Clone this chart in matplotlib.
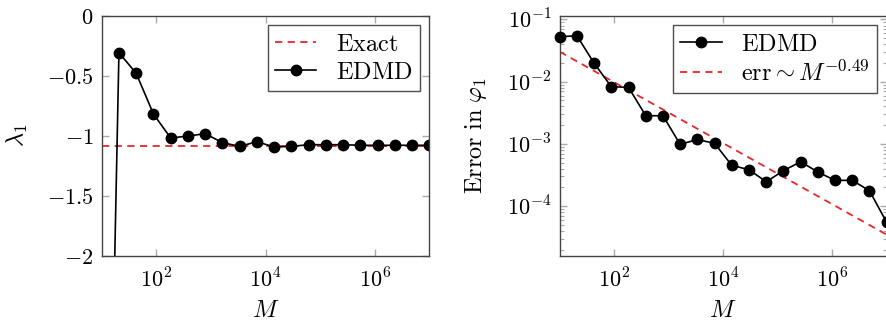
import numpy as np
import matplotlib
matplotlib.use("Agg")
import matplotlib.pyplot as plt
from matplotlib.ticker import LogLocator, NullLocator, FixedLocator, NullFormatter

plt.rcParams['mathtext.fontset'] = 'cm'
plt.rcParams['font.family'] = 'DejaVu Serif'

# data
M = 10.0 ** np.linspace(1, 7, 20)
lam_edmd = [-7.3, -0.308, -0.48, -0.819, -1.019, -1.003, -0.983, -1.058, -1.089, -1.05,
            -1.094, -1.089, -1.075, -1.075, -1.075, -1.08, -1.08, -1.08, -1.08, -1.08]
lam_exact = -1.083
err_edmd = [0.0528, 0.0548, 0.0198, 0.00832, 0.00811, 0.00284, 0.00284, 0.000984, 0.00118, 0.00102,
            0.000453, 0.000385, 0.000247, 0.000371, 0.000518, 0.000353, 0.00026, 0.00026, 0.000177, 5.48e-5]
fit_C = 0.0937
fit_p = -0.49

W, H = 886, 322
fig = plt.figure(figsize=(W / 100, H / 100), dpi=100)
ax1 = fig.add_axes([101.7 / W, 1 - 255.7 / H, 327.6 / W, 240 / H])
ax2 = fig.add_axes([559.7 / W, 1 - 255.7 / H, 327.0 / W, 240 / H])

FS = 16
LFS = 17.5
red = '#e8262a'
mk = dict(color='black', marker='o', markersize=7.5, linewidth=1.2, markerfacecolor='black')

def style(ax):
    for s in ax.spines.values():
        s.set_color('#444444')
        s.set_linewidth(1.0)
    ax.tick_params(which='both', direction='in', top=True, right=True, color='#aaaaaa',
                   labelsize=FS)
    ax.tick_params(axis='x', which='both', pad=9)
    ax.tick_params(axis='y', which='both', pad=6)
    ax.tick_params(which='major', length=5, width=1)
    ax.tick_params(which='minor', length=3, width=0.8)

legkw = dict(loc='upper right', fontsize=LFS, frameon=True, fancybox=False,
             edgecolor='#222222', borderaxespad=0.4, handlelength=1.7,
             borderpad=0.3, labelspacing=0.2, handletextpad=0.8)

# left
ax1.set_xscale('log')
ax1.plot([10, 1e7], [lam_exact, lam_exact], color=red, linestyle=(0, (4, 3)), linewidth=1.3,
         label=r'$\mathrm{Exact}$')
ax1.plot(M, lam_edmd, label=r'$\mathrm{EDMD}$', **mk, clip_on=True)
ax1.set_xlim(10, 1e7)
ax1.set_ylim(-2, 0)
ax1.set_yticks([-2, -1.5, -1, -0.5, 0])
ax1.set_yticklabels([r'$-2$', r'$-1.5$', r'$-1$', r'$-0.5$', r'$0$'])
ax1.xaxis.set_major_locator(FixedLocator([1e2, 1e4, 1e6]))
ax1.set_xticklabels([r'$10^{2}$', r'$10^{4}$', r'$10^{6}$'])
ax1.xaxis.set_minor_locator(NullLocator())
style(ax1)
ax1.set_xlabel(r'$M$', fontsize=LFS, labelpad=5)
ax1.set_ylabel(r'$\lambda_1$', fontsize=LFS, labelpad=12)
leg1 = ax1.legend(**legkw)
leg1.get_frame().set_linewidth(1.0)

# right
ax2.set_xscale('log')
ax2.set_yscale('log')
ax2.plot(M, err_edmd, label=r'$\mathrm{EDMD}$', **mk, clip_on=False, zorder=3)
ax2.plot(M, fit_C * M ** fit_p, color=red, linestyle=(0, (4, 3)), linewidth=1.3,
         label=r'$\mathrm{err} \sim M^{-0.49}$')
ax2.set_xlim(10, 1e7)
ax2.set_ylim(1.6e-5, 0.115)
ax2.xaxis.set_major_locator(FixedLocator([1e2, 1e4, 1e6]))
ax2.set_xticklabels([r'$10^{2}$', r'$10^{4}$', r'$10^{6}$'])
ax2.xaxis.set_minor_locator(NullLocator())
ax2.yaxis.set_major_locator(FixedLocator([1e-4, 1e-3, 1e-2, 1e-1]))
ax2.set_yticklabels([r'$10^{-4}$', r'$10^{-3}$', r'$10^{-2}$', r'$10^{-1}$'])
ax2.yaxis.set_minor_locator(LogLocator(base=10, subs=np.arange(2, 10)))
ax2.yaxis.set_minor_formatter(NullFormatter())
style(ax2)
ax2.set_xlabel(r'$M$', fontsize=LFS, labelpad=5)
ax2.set_ylabel(r'$\mathrm{Error\ in}\ \varphi_1$', fontsize=LFS, labelpad=13)
leg2 = ax2.legend(**legkw)
leg2.get_frame().set_linewidth(1.0)

fig.savefig('out.png', dpi=100)
